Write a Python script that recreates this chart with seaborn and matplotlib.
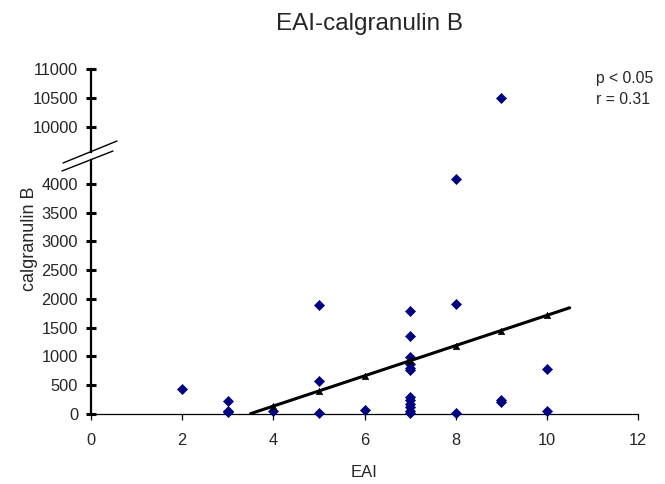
import numpy as np
import pandas as pd
import matplotlib
matplotlib.use("Agg")
import matplotlib.pyplot as plt
import seaborn as sns
from matplotlib.lines import Line2D

# ---- data ----
eai = [2, 3, 3, 3, 4, 5, 5, 5, 6,
       7, 7, 7, 7, 7, 7, 7, 7, 7, 7, 7, 7,
       8, 8, 8, 9, 9, 9, 10, 10]
calgranulin = [435, 232, 50, 30, 52, 1896, 574, 12, 75,
               1791, 1362, 990, 870, 800, 760, 300, 240, 180, 120, 60, 15,
               4081, 1918, 12, 10500, 250, 210, 783, 52]
trend_x = [4, 5, 6, 7, 8, 9, 10]
trend_y = [139, 400, 666, 927, 1183, 1449, 1722]
x_ticks = [0, 2, 4, 6, 8, 10, 12]
low_ticks = [0, 500, 1000, 1500, 2000, 2500, 3000, 3500, 4000]
high_ticks = [10000, 10500, 11000]
title = "EAI-calgranulin B"
x_label = "EAI"
y_label = "calgranulin B"
stats_text = ["p < 0.05", "r = 0.31"]

df = pd.DataFrame({"EAI": eai, "calgranulin": calgranulin})
tdf = pd.DataFrame({"x": trend_x, "y": trend_y})

sns.set_style("white")
plt.rcParams["font.family"] = ["Liberation Sans", "DejaVu Sans"]

W, H = 665, 484
fig = plt.figure(figsize=(W / 100, H / 100), dpi=100)

def fx(px):
    return px / W

def fy(py):
    return 1 - py / H

left, right = 91, 638
ax_lo = fig.add_axes([fx(left), fy(414), fx(right - left), (414 - 160) / H])
ax_hi = fig.add_axes([fx(left), fy(152), fx(right - left), (152 - 69) / H])

lo_lim = (0, 4417)
hi_lim = (9557, 11000)

navy = "#000080"
df_lo = df[df["calgranulin"] <= lo_lim[1]]
df_hi = df[df["calgranulin"] >= hi_lim[0]]
for ax, d in ((ax_lo, df_lo), (ax_hi, df_hi)):
    sns.scatterplot(data=d, x="EAI", y="calgranulin", ax=ax, marker="D",
                    s=26, color=navy, edgecolor=navy, linewidth=0.5,
                    clip_on=False, zorder=3)
    ax.set_xlim(0, 12)
    ax.set_facecolor("none")

# trend line (linear fit of the triangle series, extended 0.5 each way)
coef = np.polyfit(trend_x, trend_y, 1)
lx = np.array([min(trend_x) - 0.5, max(trend_x) + 0.5])
ax_lo.plot(lx, np.polyval(coef, lx), color="black", lw=2.2, zorder=4)
sns.scatterplot(data=tdf, x="x", y="y", ax=ax_lo, marker="^", s=22,
                color="black", edgecolor="black", zorder=5)

ax_lo.set_ylim(*lo_lim)
ax_hi.set_ylim(*hi_lim)

# spines
for ax in (ax_lo, ax_hi):
    for s in ("top", "right"):
        ax.spines[s].set_visible(False)
    ax.spines["left"].set_linewidth(1.6)
    ax.spines["left"].set_color("black")
ax_hi.spines["bottom"].set_visible(False)
ax_lo.spines["bottom"].set_linewidth(0.9)
ax_lo.spines["bottom"].set_color("black")

ax_lo.set_yticks(low_ticks)
ax_lo.set_yticklabels([str(t) for t in low_ticks])
ax_hi.set_yticks(high_ticks)
ax_hi.set_yticklabels([str(t) for t in high_ticks])
for ax in (ax_lo, ax_hi):
    ax.tick_params(axis="y", direction="inout", length=6.5, width=2.2,
                   labelsize=11.8, pad=6, left=True, color="black")
ax_lo.set_xticks(x_ticks)
ax_lo.set_xticklabels([str(t) for t in x_ticks])
ax_lo.tick_params(axis="x", direction="out", length=4, width=0.9,
                  labelsize=11.8, pad=10, bottom=True, color="black")
ax_hi.set_xticks([])
ax_hi.set_xlabel("")
ax_hi.set_ylabel("")
ax_lo.set_ylabel("")
ax_lo.set_xlabel(x_label, fontsize=12, labelpad=12)

# axis break marks
for (x0, y0, x1, y1) in [(63, 163, 117, 141), (62, 171, 113, 151)]:
    fig.add_artist(Line2D([fx(x0), fx(x1)], [fy(y0), fy(y1)],
                          color="black", lw=1.0))

fig.text(fx(369), fy(24), title, ha="center", va="center", fontsize=17.5)
fig.text(fx(30), fy(239), y_label, ha="center", va="center",
         rotation=90, fontsize=13)
fig.text(fx(596), fy(78), stats_text[0], ha="left", va="center", fontsize=11.3)
fig.text(fx(596), fy(99), stats_text[1], ha="left", va="center", fontsize=11.3)

fig.savefig("out.png", dpi=100)
